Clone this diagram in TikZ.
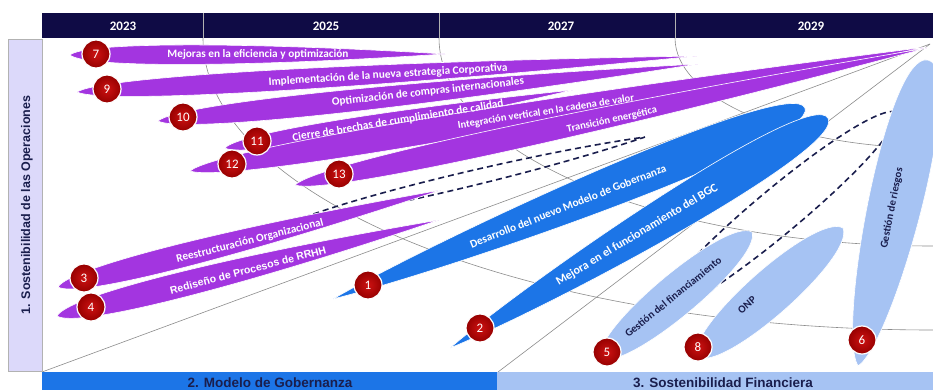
\documentclass[tikz,border=0pt]{standalone}
\usepackage{fontspec}
\setmainfont{Carlito}
\newfontfamily\arialfont{Liberation Sans}

\definecolor{hdrnavy}{RGB}{15,11,69}
\definecolor{opspurple}{RGB}{163,53,224}
\definecolor{govblue}{RGB}{28,117,231}
\definecolor{finblue}{RGB}{166,195,243}
\definecolor{lavbar}{RGB}{220,217,250}
\definecolor{numredin}{RGB}{205,18,18}
\definecolor{numredout}{RGB}{150,0,0}
\definecolor{darktext}{RGB}{26,30,77}

% band between two tips: style, x1, y1, x2, y2, ctrl1 frac, ctrl1 height, ctrl2 frac, ctrl2 height
\newcommand{\blob}[9]{%
	\pgfmathsetmacro{\blobang}{atan2(#3-#5,#4-#2)}%
	\pgfmathsetmacro{\bloblen}{veclen(#4-#2,#5-#3)}%
	\path[#1,shift={(#2,#3)},rotate=\blobang] (0,0)
		.. controls (#6*\bloblen,#7) and (#8*\bloblen,#9) .. (\bloblen,0)
		.. controls (#8*\bloblen,-#9) and (#6*\bloblen,-#7) .. cycle;}

\begin{document}
\begin{tikzpicture}[x=1pt,y=-1pt]
	%\draw[help lines] (0,0) grid (933,390);
	
	\tikzstyle{gline} = [gray!90,line width=0.6pt]
	\tikzstyle{opsband} = [fill=opspurple,draw=white,line width=0.6pt]
	\tikzstyle{govband} = [fill=govblue,draw=white,line width=0.6pt]
	\tikzstyle{finband} = [fill=finblue,draw=white,line width=0.6pt]
	\tikzstyle{dashlens} = [draw=darktext,line width=1.6pt,dash pattern=on 6pt off 4pt]
	\tikzstyle{btext} = [text=white,font=\bfseries\fontsize{11.3}{11.3}\selectfont,inner sep=0pt]
	\tikzstyle{ftext} = [text=darktext,font=\bfseries\fontsize{10.8}{10.8}\selectfont,inner sep=0pt]
	\tikzstyle{numnode} = [circle,draw=white,line width=1.2pt,inner color=numredin,outer color=numredout,text=white,minimum size=28pt,inner sep=0pt,font=\fontsize{13}{13}\selectfont]
	\tikzstyle{hnode} = [text=white,font=\bfseries\fontsize{13}{13}\selectfont]
	\tikzstyle{pnode} = [text=darktext,font=\arialfont\bfseries\fontsize{13.5}{13.5}\selectfont]
	
	\useasboundingbox (0,0) rectangle (933,390);
	\clip (0,0) rectangle (933,390);
	\fill[white] (0,0) rectangle (933,390);
	
	% grid
	\draw[gline] (930,44) -- (42,372);
	\draw[gline] (930,44) -- (498,372);
	\draw[gline] (203,38) arc[start angle=180,end angle=270,x radius=730pt,y radius=292pt];
	\draw[gline] (439,38) arc[start angle=180,end angle=270,x radius=494pt,y radius=208pt];
	\draw[gline] (675,38) arc[start angle=180,end angle=270,x radius=258pt,y radius=110pt];
	
	% dashed groups
	\blob{dashlens}{300}{219}{645}{137}{0.2}{10}{0.7}{10}
	\blob{dashlens}{650}{318}{897}{112}{0.1}{30}{0.95}{30}
	
	% operaciones
	\blob{opsband}{70}{55}{445}{54}{0.04}{13}{0.45}{13}
	\blob{opsband}{77}{92}{697}{56}{0.04}{14}{0.45}{14}
	\blob{opsband}{158}{121}{698}{64}{0.04}{15}{0.45}{15}
	\blob{opsband}{225}{148}{573}{90}{0.04}{12}{0.45}{12}
	\blob{opsband}{190}{171}{927}{47}{0.04}{17}{0.45}{17}
	\blob{opsband}{295}{185}{927}{48}{0.04}{16}{0.45}{16}
	\blob{opsband}{58}{287}{441}{190}{0.04}{16}{0.45}{16}
	\blob{opsband}{57}{316}{439}{220}{0.04}{17}{0.45}{17}
	
	% gobernanza
	\blob{govband}{333}{299}{805}{108}{0.25}{18}{1}{36}
	\blob{govband}{450}{348}{828}{118}{0.25}{18}{1}{36}
	
	% financiera
	\blob{finband}{601}{358}{752}{232}{0.05}{28}{0.95}{28}
	\blob{finband}{697}{357}{843}{228}{0.05}{30}{0.95}{30}
	\blob{finband}{858}{366}{928}{60}{0.1}{30}{1}{42}
	
	% frame
	\fill[hdrnavy] (42,13) rectangle (933,38);
	\draw[gray!60] (203,13) -- (203,38);
	\draw[gray!60] (439,13) -- (439,38);
	\draw[gray!60] (675,13) -- (675,38);
	\draw[fill=lavbar,draw=gray!60] (8,39) rectangle (42,371);
	\fill[govblue] (42,372) rectangle (497,390);
	\fill[finblue] (497,372) rectangle (933,390);
	
	\node[hnode] (y23) at (123,26) {2023};
	\node[hnode] (y25) at (326,26) {2025};
	\node[hnode] (y27) at (561,26) {2027};
	\node[hnode] (y29) at (811,26) {2029};
	
	\node[pnode,rotate=90,font=\arialfont\bfseries\fontsize{12.5}{12.5}\selectfont] (ops) at (27,205) {1. Sostenibilidad de las Operaciones};
	\node[pnode] (gov) at (270,383) {2. Modelo de Gobernanza};
	\node[pnode] (fin) at (723,383) {3. Sostenibilidad Financiera};
	
	% band texts
	\node[btext] (t7) at (258,54) {Mejoras en la eficiencia y optimización};
	\node[btext,rotate=3.5] (t9) at (388,75) {Implementación de la nueva estrategia Corporativa};
	\node[btext,rotate=6.3] (t10) at (428,92) {Optimización de compras internacionales};
	\node[btext,rotate=9.3] (t11) at (398,121) {Cierre de brechas de cumplimiento de calidad};
	\node[btext,rotate=9,font=\bfseries\fontsize{10.5}{10.5}\selectfont] (t12) at (546,112) {Integración vertical en la cadena de valor};
	\node[btext,rotate=12.5,font=\bfseries\fontsize{10.5}{10.5}\selectfont] (t13) at (612,120) {Transición energética};
	\node[btext,rotate=14.2] (t3) at (250,241) {Reestructuración Organizacional};
	\node[btext,rotate=14.7,font=\arialfont\bfseries\fontsize{10.5}{10.5}\selectfont] (t4) at (248,270) {Rediseño de Procesos de RRHH};
	\node[btext,rotate=21.5] (t1) at (568,206) {Desarrollo del nuevo Modelo de Gobernanza};
	\node[btext,rotate=31,font=\bfseries\fontsize{12}{12}\selectfont] (t2) at (637,235) {Mejora en el funcionamiento del BGC};
	\node[ftext,rotate=39] (t5) at (673,297) {Gestión del financiamiento};
	\node[ftext,rotate=41] (t8) at (747,305) {ONP};
	\node[ftext,rotate=79] (t6) at (892,208) {Gestión de riesgos};
	
	% numbers
	\node[numnode] (n7) at (96,54) {7};
	\node[numnode] (n9) at (107,89) {9};
	\node[numnode] (n10) at (183,117) {10};
	\node[numnode] (n11) at (257,141) {11};
	\node[numnode] (n12) at (232,164) {12};
	\node[numnode] (n13) at (339,174) {13};
	\node[numnode] (n3) at (84,278) {3};
	\node[numnode] (n4) at (91,307) {4};
	\node[numnode] (n1) at (368,285) {1};
	\node[numnode] (n2) at (480,328) {2};
	\node[numnode] (n5) at (607,352) {5};
	\node[numnode] (n8) at (698,347) {8};
	\node[numnode] (n6) at (862,340) {6};

\end{tikzpicture}
\end{document}
